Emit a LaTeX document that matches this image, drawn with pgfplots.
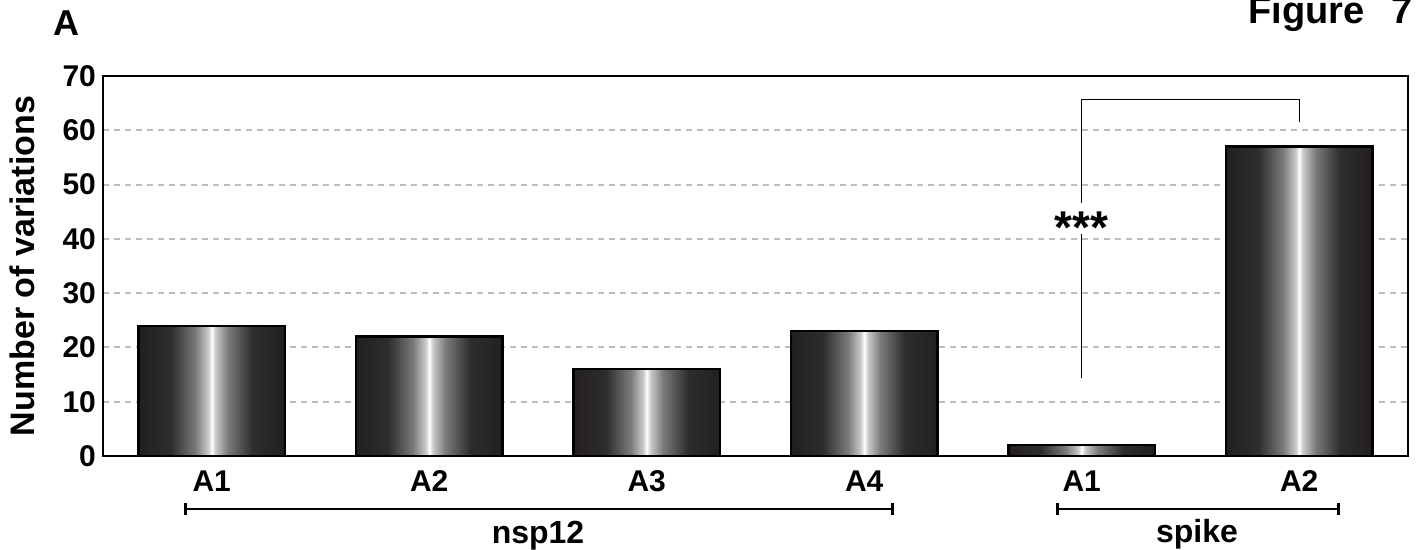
\documentclass[border=0pt]{standalone}
\usepackage{pgfplots}
\pgfplotsset{compat=1.18}
\usepackage{fontspec}
\setmainfont{Liberation Sans}
\definecolor{bardark}{HTML}{231F20}
\definecolor{barmid1}{HTML}{2E2C2D}
\definecolor{barmid2}{HTML}{7A7A7C}
\definecolor{barlight}{HTML}{C9CACC}
\definecolor{gridgray}{HTML}{BCBEC0}
\pgfdeclarehorizontalshading{barshade}{100bp}{color(0bp)=(bardark); color(25bp)=(bardark); color(36bp)=(barmid1); color(44.5bp)=(barmid2); color(48.8bp)=(barlight); color(50bp)=(white); color(51.2bp)=(barlight); color(55.5bp)=(barmid2); color(64bp)=(barmid1); color(75bp)=(bardark); color(100bp)=(bardark)}
\begin{document}
\begin{tikzpicture}[font=\bfseries]
\useasboundingbox (-51.5pt,-47pt) rectangle (657.5pt,228pt);
\begin{axis}[
  at={(0,0)}, anchor=south west,
  scale only axis, width=652.5pt, height=190pt,
  xmin=-0.5, xmax=5.5, ymin=0, ymax=70,
  xtick={0,1,2,3,4,5}, xticklabels={A1,A2,A3,A4,A1,A2},
  ytick={0,10,20,30,40,50,60,70},
  major tick length=0pt,
  ymajorgrids,
  grid style={gridgray, dash pattern=on 3pt off 2.5pt, line width=1pt},
  axis line style={line width=1.3pt, black},
  tick label style={font=\fontsize{15}{18}\selectfont\bfseries},
  /pgf/number format/assume math mode=true,
  xticklabel style={text height=11pt, text depth=0pt, yshift=-3pt},
  ylabel={Number of variations},
  every axis y label/.style={at={(axis description cs:-0.0621,0.5)}, rotate=90, anchor=center, font=\fontsize{17}{20}\selectfont\bfseries},
  clip=false,
  barstyle/.style={ybar, bar width=0.675, bar shift=0pt, draw=black, line width=1.2pt, shading=barshade},
]
\addplot[barstyle] coordinates {(0,24)};
\addplot[barstyle] coordinates {(1,22)};
\addplot[barstyle] coordinates {(2,16)};
\addplot[barstyle] coordinates {(3,23)};
\addplot[barstyle] coordinates {(4,2)};
\addplot[barstyle] coordinates {(5,57)};
% group brackets
\draw[line width=1pt] ([yshift=-26.5pt]axis cs:-0.12,0) -- ([yshift=-26.5pt]axis cs:3.13,0);
\draw[line width=1.4pt] ([yshift=-23.5pt]axis cs:-0.12,0) -- ([yshift=-29.5pt]axis cs:-0.12,0);
\draw[line width=1.4pt] ([yshift=-23.5pt]axis cs:3.13,0) -- ([yshift=-29.5pt]axis cs:3.13,0);
\draw[line width=1pt] ([yshift=-26.5pt]axis cs:3.89,0) -- ([yshift=-26.5pt]axis cs:5.18,0);
\draw[line width=1.4pt] ([yshift=-23.5pt]axis cs:3.89,0) -- ([yshift=-29.5pt]axis cs:3.89,0);
\draw[line width=1.4pt] ([yshift=-23.5pt]axis cs:5.18,0) -- ([yshift=-29.5pt]axis cs:5.18,0);
\node[anchor=base, font=\fontsize{16}{19}\selectfont\bfseries] at ([yshift=-44pt]axis cs:1.5,0) {nsp12};
\node[anchor=base, font=\fontsize{16}{19}\selectfont\bfseries] at ([yshift=-43.5pt]axis cs:4.53,0) {spike};
% significance bracket
\draw[line width=0.7pt] (axis cs:4,14.4) -- (axis cs:4,40.9);
\draw[line width=0.7pt] (axis cs:4,46.6) -- (axis cs:4,65.7) -- (axis cs:5,65.7) -- (axis cs:5,61.5);
\node[anchor=base, inner sep=0pt, font=\fontsize{23}{27}\selectfont\bfseries] at (axis cs:4,39.2) {***};
\end{axis}
\node[anchor=base west, inner sep=0pt, font=\fontsize{18}{22}\selectfont\bfseries] at (-25pt,210pt) {A};
\node[anchor=base west, inner sep=0pt, font=\fontsize{19}{23}\selectfont\bfseries] at (572.5pt,216pt) {Figure\hspace{13.5pt}7};
\end{tikzpicture}
\end{document}
